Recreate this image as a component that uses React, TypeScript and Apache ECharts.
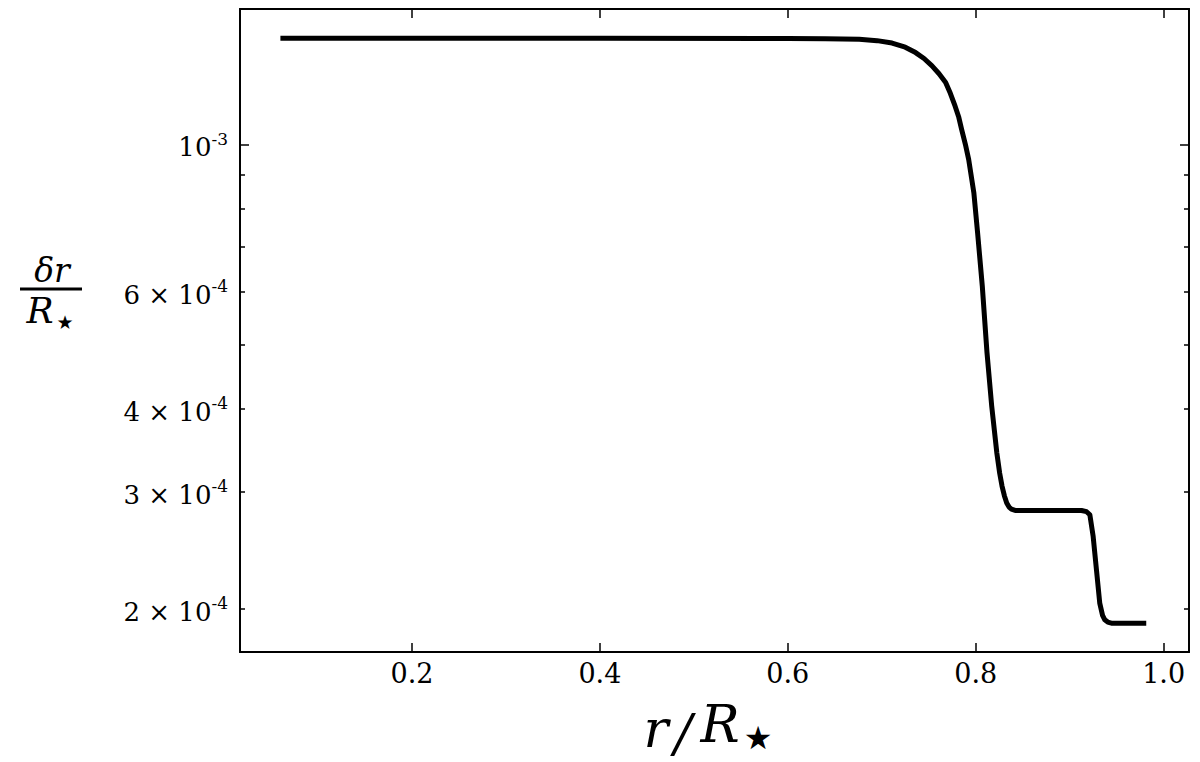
import React, { useEffect, useRef } from 'react';
import * as echarts from 'echarts';

// r / R_star
const radius = [
  0.06, 0.2, 0.4, 0.6, 0.64, 0.676, 0.695, 0.711, 0.725, 0.736, 0.745, 0.7535,
  0.761, 0.768, 0.773, 0.778, 0.782, 0.785, 0.789, 0.7925, 0.798, 0.802, 0.807,
  0.812, 0.817, 0.8225, 0.8255, 0.828, 0.8305, 0.833, 0.8355, 0.838, 0.842,
  0.88, 0.9126, 0.918, 0.9215, 0.925, 0.9285, 0.932, 0.935, 0.9374, 0.9405,
  0.9444, 0.96, 0.9815,
];
// delta r / R_star
const deltaR = [
  1.444e-3, 1.444e-3, 1.444e-3, 1.443e-3, 1.441e-3, 1.439e-3, 1.432e-3, 1.42e-3,
  1.4e-3, 1.374e-3, 1.346e-3, 1.312e-3, 1.277e-3, 1.239e-3, 1.193e-3, 1.142e-3,
  1.098e-3, 1.053e-3, 1.0e-3, 9.49e-4, 8.46e-4, 7.36e-4, 6.12e-4, 4.86e-4,
  4.04e-4, 3.43e-4, 3.2e-4, 3.06e-4, 2.96e-4, 2.885e-4, 2.845e-4, 2.825e-4,
  2.812e-4, 2.812e-4, 2.812e-4, 2.8e-4, 2.77e-4, 2.57e-4, 2.29e-4, 2.04e-4,
  1.955e-4, 1.925e-4, 1.91e-4, 1.903e-4, 1.903e-4, 1.903e-4,
];

const xTicks = [0.2, 0.4, 0.6, 0.8, 1.0];
const xRange = [0.017, 1.027];
const yRange = [1.722e-4, 1.598e-3];
const yMajorTicks = [1e-3];
const yMinorTicks = [2e-4, 3e-4, 4e-4, 5e-4, 6e-4, 7e-4, 8e-4, 9e-4];
const yLabelValues = [2e-4, 3e-4, 4e-4, 6e-4, 1e-3];
const yLabelMantissa = ['2 × 10', '3 × 10', '4 × 10', '6 × 10', '10'];
const yLabelExponent = ['-4', '-4', '-4', '-4', '-3'];

const FONT = 'DejaVu Serif';
const lg = (v: number) => Math.log10(v);

export default function App() {
  const ref = useRef<HTMLDivElement>(null);
  useEffect(() => {
    if (!ref.current) return;
    const chart = echarts.init(ref.current, undefined, { renderer: 'svg' });
    const axisLine = { show: true, onZero: false, lineStyle: { color: '#000', width: 1.8 } };
    const tickStyle = { color: '#000', width: 1.5 };
    const baseX = {
      type: 'value',
      min: xRange[0],
      max: xRange[1],
      splitLine: { show: false },
      axisLine,
    };
    const baseY = {
      type: 'value',
      min: lg(yRange[0]),
      max: lg(yRange[1]),
      splitLine: { show: false },
      axisLine,
    };
    const yLabelFormatter = (v: number) => {
      const i = yLabelValues.findIndex((t) => Math.abs(lg(t) - v) < 1e-6);
      if (i < 0) return '';
      return '{m|' + yLabelMantissa[i] + '}{e|' + yLabelExponent[i] + '}';
    };
    const mathText = (text: string, x: number, y: number, size: number, family = FONT, italic = true) => ({
      type: 'text',
      x,
      y,
      style: {
        text,
        fontFamily: family,
        fontStyle: italic ? 'italic' : 'normal',
        fontSize: size,
        fill: '#000',
        align: 'center',
        verticalAlign: 'middle',
      },
    });
    const option: any = {
      animation: false,
      backgroundColor: '#fff',
      grid: { left: 240, right: 11, top: 9, bottom: 110, containLabel: false },
      xAxis: [
        {
          ...baseX,
          position: 'bottom',
          axisTick: { show: true, inside: true, length: 9, customValues: xTicks, lineStyle: tickStyle },
          axisLabel: {
            show: true,
            customValues: xTicks,
            formatter: (v: number) => v.toFixed(1),
            fontFamily: FONT,
            fontSize: 27,
            color: '#000',
            margin: 8,
          },
        },
        {
          ...baseX,
          position: 'top',
          axisTick: { show: true, inside: true, length: 9, customValues: xTicks, lineStyle: tickStyle },
          axisLabel: { show: false },
        },
      ],
      yAxis: [
        {
          ...baseY,
          position: 'left',
          axisTick: { show: true, inside: true, length: 9, customValues: yMajorTicks.map(lg), lineStyle: tickStyle },
          axisLabel: {
            show: true,
            customValues: yLabelValues.map(lg),
            formatter: yLabelFormatter,
            margin: 12,
            rich: {
              m: { fontFamily: FONT, fontSize: 26, color: '#000', verticalAlign: 'bottom', lineHeight: 32 },
              e: { fontFamily: FONT, fontSize: 17, color: '#000', verticalAlign: 'bottom', padding: [0, 0, 13, 0], lineHeight: 32 },
            },
          },
        },
        {
          ...baseY,
          position: 'left',
          axisTick: { show: true, inside: true, length: 5, customValues: yMinorTicks.map(lg), lineStyle: tickStyle },
          axisLabel: { show: false },
        },
        {
          ...baseY,
          position: 'right',
          axisTick: { show: true, inside: true, length: 9, customValues: yMajorTicks.map(lg), lineStyle: tickStyle },
          axisLabel: { show: false },
        },
        {
          ...baseY,
          position: 'right',
          axisTick: { show: true, inside: true, length: 5, customValues: yMinorTicks.map(lg), lineStyle: tickStyle },
          axisLabel: { show: false },
        },
      ],
      graphic: [
        // y-axis title: fraction δr / R★
        mathText('δr', 52, 270, 33),
        {
          type: 'line',
          shape: { x1: 20, y1: 289, x2: 82, y2: 289 },
          style: { stroke: '#000', lineWidth: 3 },
        },
        mathText('R', 40, 310, 36),
        mathText('★', 65, 322, 19, 'DejaVu Sans', false),
        // x-axis title: r / R★
        mathText('r', 656, 729, 52),
        mathText('/', 683, 733, 52),
        mathText('R', 720, 724, 52),
        mathText('★', 758, 738, 32, 'DejaVu Sans', false),
      ],
      series: [
        {
          type: 'line',
          xAxisIndex: 0,
          yAxisIndex: 0,
          data: radius.map((r, i) => [r, lg(deltaR[i])]),
          showSymbol: false,
          smooth: false,
          lineStyle: { color: '#000', width: 5, join: 'round', cap: 'butt' },
        },
      ],
    };
    chart.setOption(option);
    return () => chart.dispose();
  }, []);
  return (
    <div
      ref={ref}
      style={{ position: 'fixed', left: 0, top: 0, width: 1200, height: 762, background: '#fff' }}
    />
  );
}
